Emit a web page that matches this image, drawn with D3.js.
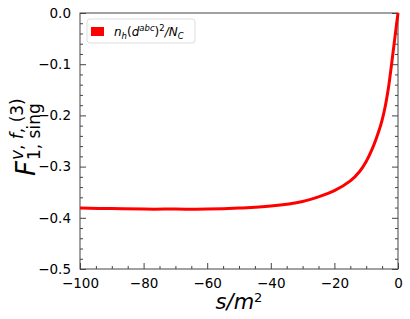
<!DOCTYPE html>
<html>
<head>
<meta charset="utf-8">
<script src="https://cdn.jsdelivr.net/npm/d3@7"></script>
<style>
  body { margin: 0; background: #fff; }
  text { font-family: "DejaVu Sans", sans-serif; }
</style>
</head>
<body>
<div id="chart"></div>
<script>
// values
const sValues = [-100, -90, -80, -70, -60, -50, -40, -30, -25, -20, -15, -12, -10, -8, -6, -5, -4, -3, -2, -1, 0];
const fValues = [-0.381, -0.382, -0.383, -0.383, -0.383, -0.381, -0.377, -0.368, -0.359, -0.347, -0.328, -0.309, -0.290, -0.264, -0.230, -0.209, -0.182, -0.146, -0.099, -0.049, 0];
const xTicks = [-100, -80, -60, -40, -20, 0];
const yTicks = [0, -0.1, -0.2, -0.3, -0.4, -0.5];

const W = 410, H = 319;
const margin = { top: 13, right: 12, bottom: 50, left: 80 };
const width = W - margin.left - margin.right;
const height = H - margin.top - margin.bottom;
const axisColor = "#444";
const red = "#ff0000";

const svg = d3.select("#chart").append("svg")
  .attr("width", W).attr("height", H);

const g = svg.append("g").attr("transform", `translate(${margin.left},${margin.top})`);

const x = d3.scaleLinear().domain([-100, 0]).range([0, width]);
const y = d3.scaleLinear().domain([-0.5, 0]).range([height, 0]);

const data = sValues.map((s, i) => ({ s: s, f: fValues[i] }));

// minor ticks
const xMinor = d3.range(-100, 0.001, 5).filter(v => !xTicks.includes(v));
const yMinor = d3.range(0, 26).map(i => -i * 0.02).filter(v => !yTicks.some(t => Math.abs(t - v) < 1e-9));

// bottom axis
g.append("g")
  .attr("transform", `translate(0,${height})`)
  .call(d3.axisBottom(x).tickValues(xTicks).tickSize(-6).tickPadding(9).tickFormat(d => d < 0 ? "\u2212" + Math.abs(d) : d))
  .call(a => a.select(".domain").remove())
  .call(a => a.selectAll(".tick line").attr("stroke", axisColor))
  .call(a => a.selectAll(".tick text").attr("font-size", 13.5).attr("fill", "#000"));
g.append("g")
  .attr("transform", `translate(0,${height})`)
  .call(d3.axisBottom(x).tickValues(xMinor).tickSize(-3).tickFormat(""))
  .call(a => a.select(".domain").remove())
  .call(a => a.selectAll(".tick line").attr("stroke", axisColor));

// left axis
g.append("g")
  .call(d3.axisLeft(y).tickValues(yTicks).tickSize(-6).tickPadding(9).tickFormat(d => (d < 0 ? "\u2212" : "") + Math.abs(d).toFixed(1)))
  .call(a => a.select(".domain").remove())
  .call(a => a.selectAll(".tick line").attr("stroke", axisColor))
  .call(a => a.selectAll(".tick text").attr("font-size", 13.5).attr("fill", "#000"));
g.append("g")
  .call(d3.axisLeft(y).tickValues(yMinor).tickSize(-3).tickFormat(""))
  .call(a => a.select(".domain").remove())
  .call(a => a.selectAll(".tick line").attr("stroke", axisColor));

// right axis ticks
g.append("g")
  .attr("transform", `translate(${width},0)`)
  .call(d3.axisRight(y).tickValues(yTicks).tickSize(-6).tickFormat(""))
  .call(a => a.select(".domain").remove())
  .call(a => a.selectAll(".tick line").attr("stroke", axisColor));
g.append("g")
  .attr("transform", `translate(${width},0)`)
  .call(d3.axisRight(y).tickValues(yMinor).tickSize(-3).tickFormat(""))
  .call(a => a.select(".domain").remove())
  .call(a => a.selectAll(".tick line").attr("stroke", axisColor));

// frame
g.append("rect")
  .attr("width", width).attr("height", height)
  .attr("fill", "none").attr("stroke", axisColor).attr("stroke-width", 1);

// curve
const line = d3.line()
  .x(d => x(d.s))
  .y(d => y(d.f))
  .curve(d3.curveCatmullRom);

g.append("path")
  .datum(data)
  .attr("fill", "none")
  .attr("stroke", red)
  .attr("stroke-width", 3)
  .attr("d", line);

// legend
const lg = g.append("g").attr("transform", "translate(7,6)");
lg.append("rect")
  .attr("width", 108).attr("height", 24).attr("rx", 3)
  .attr("fill", "#fff").attr("stroke", "#ddd");
lg.append("rect")
  .attr("x", 4).attr("y", 8).attr("width", 13).attr("height", 9)
  .attr("fill", red);
const lt = lg.append("text").attr("x", 27).attr("y", 17).attr("font-size", 12);
lt.append("tspan").attr("font-style", "italic").text("n");
lt.append("tspan").attr("font-style", "italic").attr("font-size", 8.5).attr("dy", 3).text("h");
lt.append("tspan").attr("dy", -3).text("(");
lt.append("tspan").attr("font-style", "italic").text("d");
lt.append("tspan").attr("font-style", "italic").attr("font-size", 8.5).attr("dy", -5).text("abc");
lt.append("tspan").attr("dy", 5).text(")");
lt.append("tspan").attr("font-size", 8.5).attr("dy", -5).text("2");
lt.append("tspan").attr("dy", 5).attr("font-style", "italic").text("/N");
lt.append("tspan").attr("font-style", "italic").attr("font-size", 8.5).attr("dy", 3).text("C");

// x label
const xl = svg.append("text")
  .attr("x", margin.left + width / 2)
  .attr("y", 309)
  .attr("text-anchor", "middle")
  .attr("font-size", 21);
xl.append("tspan").attr("font-style", "italic").text("s/m");
xl.append("tspan").attr("font-size", 13).attr("dy", -7).text("2");

// y label
const yl = svg.append("g").attr("transform", "translate(35,176) rotate(-90)");
const F = yl.append("text").attr("x", 0).attr("y", 0).attr("font-size", 26).attr("font-style", "italic").text("F");
const fw = F.node().getComputedTextLength();
const sup = yl.append("text").attr("x", fw + 1).attr("y", -12).attr("font-size", 17);
sup.append("tspan").attr("font-style", "italic").text("v");
sup.append("tspan").text(", ");
sup.append("tspan").attr("font-style", "italic").text("f");
sup.append("tspan").text(", (3)");
yl.append("text").attr("x", fw + 1).attr("y", 5).attr("font-size", 17).text("1, sing");
</script>
</body>
</html>
